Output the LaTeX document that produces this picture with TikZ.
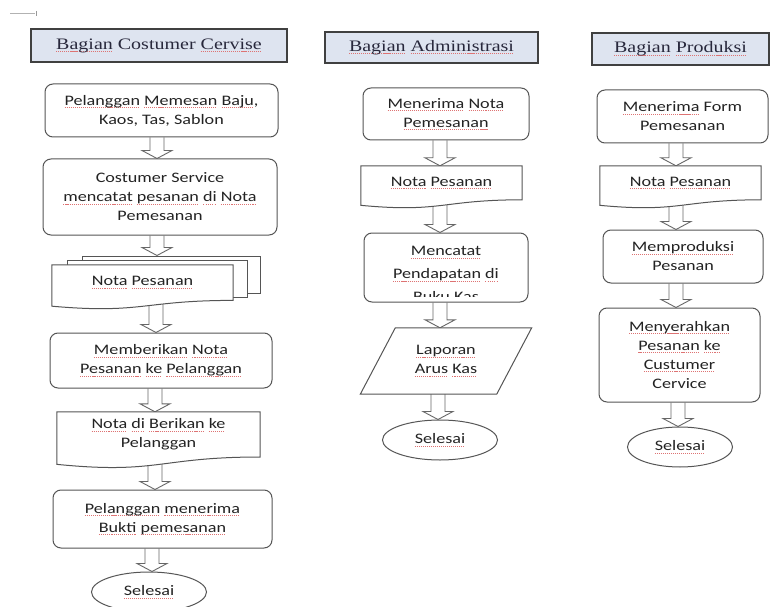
\documentclass[tikz,border=0pt]{standalone}
\usepackage{fontspec}
\setmainfont{Carlito}[FakeStretch=1.25]
\newfontfamily\hdfont{Liberation Serif}[FakeStretch=1.25]
\usetikzlibrary{shapes.geometric,calc}
\pgfdeclarelayer{paper}
\pgfdeclarelayer{bg}
\pgfdeclarelayer{shp}
\pgfsetlayers{paper,bg,shp,main}
\definecolor{hdrfill}{RGB}{222,228,240}
\definecolor{inkc}{RGB}{35,35,35}
\definecolor{linec}{RGB}{85,85,85}
\definecolor{sqc}{RGB}{222,115,115}
\newcommand\sq[1]{\setbox0=\hbox{#1}\leavevmode\rlap{\lower2.8pt\hbox to\wd0{\color{sqc}\xleaders\hbox{\vrule width1.1pt height0.8pt\kern0.9pt}\hfill}}\box0\relax}
\tikzset{
  every node/.style={font=\fontsize{14.5}{19}\selectfont, text=inkc},
  hdr/.style={draw=black!75, line width=1.3pt, fill=hdrfill, inner sep=0pt,
    font=\hdfont\fontsize{16}{19}\selectfont, text={rgb,255:red,40;green,40;blue,60}},
  proc/.style={draw=linec, line width=1pt, rounded corners=8pt, fill=white, align=center, inner sep=0pt},
  docn/.style={align=center, inner sep=0pt},
  docline/.style={draw=linec, line width=1pt, fill=white},
  backpage/.style={draw=linec, line width=1pt, fill=white, inner sep=0pt},
  term/.style={ellipse, draw=linec, line width=1pt, fill=white, inner sep=0pt},
  barrow/.style={draw=black!60, line width=0.9pt, fill=white, line join=miter},
}
\newcommand\docshape[1]{%
  \begin{pgfonlayer}{shp}
  \draw[docline] (#1.north west) -- (#1.north east) -- (#1.south east)
    .. controls (#1.south) and ($(#1.south)!-0.3875!(#1.north)$)
    .. ($(#1.south west)!-0.1625!(#1.north west)$) -- cycle;
  \end{pgfonlayer}}
\newcommand\barr[3]{%
  \begin{pgfonlayer}{bg}
  \draw[barrow] let \p1=(#1.south), \p2=(#2.north) in
    (#3pt-7pt,\y1) -- (#3pt-7pt,\y2+8pt) -- (#3pt-15pt,\y2+8pt) -- (#3pt,\y2)
    -- (#3pt+15pt,\y2+8pt) -- (#3pt+7pt,\y2+8pt) -- (#3pt+7pt,\y1);
  \end{pgfonlayer}}
\begin{document}
\begin{tikzpicture}[x=1pt,y=-1pt]
\useasboundingbox (0,0) rectangle (771,607);
\begin{pgfonlayer}{paper}
\fill[white] (0,0) rectangle (771,607);
\end{pgfonlayer}
\clip (0,0) rectangle (771,607);
\draw[black!30, line width=1pt] (10,14) -- (35,14);
\draw[black!40, line width=0.8pt] (36,11) -- (36,16);

% headers
\node[hdr, minimum width=256pt, minimum height=33pt] (h1) at (159,45.5) {\sq{Bagian} Costumer \sq{Cervise}};
\node[hdr, minimum width=213pt, minimum height=31pt] (h2) at (431.5,47.5) {\sq{Bagian} \sq{Administrasi}};
\node[hdr, minimum width=177pt, minimum height=32pt] (h3) at (680.5,49) {\sq{Bagian} \sq{Produksi}};

% column 1
\node[proc, minimum width=233pt, minimum height=53pt] (a1) at (161.5,110.5) {\sq{Pelanggan} \sq{Memesan} \sq{Baju},\\Kaos, Tas, Sablon};
\node[proc, minimum width=234pt, minimum height=76pt] (a2) at (160,197) {Costumer Service\\\sq{mencatat} \sq{pesanan} \sq{di} \sq{Nota}\\Pemesanan};
\begin{pgfonlayer}{shp}
\node[backpage, minimum width=178pt, minimum height=37pt] (a3c) at (171,274.5) {};
\node[backpage, minimum width=180pt, minimum height=37pt] (a3b) at (157,278.5) {};
\end{pgfonlayer}
\node[docn, minimum width=181pt, minimum height=35.2pt] (a3) at (142.5,282.6) {\sq{Nota} \sq{Pesanan}};
\docshape{a3}
\node[proc, minimum width=222pt, minimum height=55pt] (a4) at (161,360.5) {\sq{Memberikan} \sq{Nota}\\\sq{Pesanan} \sq{ke} \sq{Pelanggan}};
\node[docn, minimum width=203pt, minimum height=44.8pt] (a5) at (158.5,434.4) {\sq{Nota} \sq{di} \sq{Berikan} \sq{ke}\\Pelanggan};
\docshape{a5}
\node[proc, minimum width=219pt, minimum height=58pt] (a6) at (162.5,519) {\sq{Pelanggan} \sq{menerima}\\\sq{Bukti} \sq{pemesanan}};
\node[term, minimum width=115pt, minimum height=40pt] (a7) at (149,592) {\sq{Selesai}};

% column 2
\node[proc, minimum width=166pt, minimum height=52pt] (b1) at (446,114) {\sq{Menerima} \sq{Nota}\\\sq{Pemesanan}};
\node[docn, minimum width=161pt, minimum height=33.6pt] (b2) at (441.5,182.8) {\sq{Nota} \sq{Pesanan}};
\docshape{b2}
\node[proc, minimum width=164pt, minimum height=69pt] (b3) at (446,267.5) {};
\begin{scope}
\clip (365,234) rectangle (527,296);
\node[align=center, font=\fontsize{14.5}{23}\selectfont] (b3t) at (446,274) {\sq{Mencatat}\\\sq{Pendapatan} \sq{di}\\Buku Kas};
\end{scope}
\node[docn, minimum width=171pt, minimum height=66pt] (b4) at (446,361) {\sq{Laporan}\\\sq{Arus} \sq{Kas}};
\begin{pgfonlayer}{shp}
\draw[docline] ($(b4.north west)+(35pt,0)$) -- (b4.north east) -- ($(b4.south east)+(-35pt,0)$) -- (b4.south west) -- cycle;
\end{pgfonlayer}
\node[term, minimum width=115pt, minimum height=40pt] (b5) at (440,440) {\sq{Selesai}};

% column 3
\node[proc, minimum width=171pt, minimum height=53pt] (c1) at (682.5,116.5) {\sq{Menerima} Form\\Pemesanan};
\node[docn, minimum width=161pt, minimum height=33.6pt] (c2) at (680.5,182.8) {\sq{Nota} \sq{Pesanan}};
\docshape{c2}
\node[proc, minimum width=160pt, minimum height=53pt] (c3) at (683,256.5) {\sq{Memproduksi}\\Pesanan};
\node[proc, minimum width=161pt, minimum height=94pt] (c4) at (679.5,355) {\sq{Menyerahkan}\\\sq{Pesanan} \sq{ke}\\\sq{Custumer}\\Cervice};
\node[term, minimum width=105pt, minimum height=40pt] (c5) at (680,447) {\sq{Selesai}};

% arrows
\barr{a1}{a2}{157}
\barr{a2}{a3c}{157}
\barr{a3}{a4}{156}
\barr{a4}{a5}{155}
\barr{a5}{a6}{155}
\barr{a6}{a7}{152}
\barr{b1}{b2}{440}
\barr{b2}{b3}{440}
\barr{b3}{b4}{440}
\barr{b4}{b5}{438}
\barr{c1}{c2}{676}
\barr{c2}{c3}{676}
\barr{c3}{c4}{676}
\barr{c4}{c5}{678}
\end{tikzpicture}
\end{document}
